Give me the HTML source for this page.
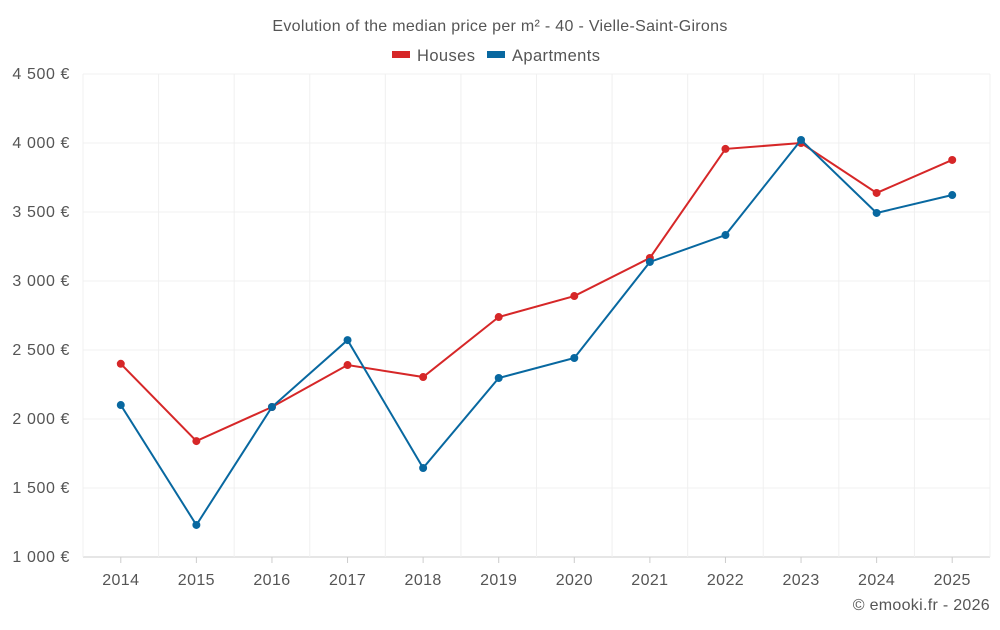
<!DOCTYPE html>
<html><head><meta charset="utf-8"><style>
body{margin:0;background:#fff;font-family:"Liberation Sans",sans-serif;}
svg text{font-family:"Liberation Sans",sans-serif;fill:#555;}
</style></head><body>
<svg id="chart" width="1000" height="625">
<text x="500" y="31" text-anchor="middle" font-size="16" letter-spacing="0.3">Evolution of the median price per m² - 40 - Vielle-Saint-Girons</text>
<g>
<g><rect x="392" y="51" width="18" height="7" fill="#d62728"/><text x="417" y="61" font-size="16.5" letter-spacing="0.4">Houses</text></g>
<g><rect x="487" y="51" width="18" height="7" fill="#0868a0"/><text x="512" y="61" font-size="16.5" letter-spacing="0.4">Apartments</text></g>
</g>
<g id="grid"></g><g id="axes"></g><g id="series"></g>
<text x="990" y="610" text-anchor="end" font-size="16" letter-spacing="0.3">© emooki.fr - 2026</text>
</svg>
<script>
const years=[2014,2015,2016,2017,2018,2019,2020,2021,2022,2023,2024,2025];
const houses=[2400,1840,2087,2391,2304,2739,2891,3167,3957,4000,3638,3877];
const apartments=[2101,1232,2087,2572,1645,2297,2442,3138,3333,4022,3493,3623];
const yTicks=[1000,1500,2000,2500,3000,3500,4000,4500];
const yTickLabels=["1 000 €","1 500 €","2 000 €","2 500 €","3 000 €","3 500 €","4 000 €","4 500 €"];
const L=83,R=990,T=74,B=557,ymin=1000,ymax=4500;
const band=(R-L)/years.length;
const x=i=>L+band*(i+0.5);
const y=v=>B-(v-ymin)/(ymax-ymin)*(B-T);
const NS="http://www.w3.org/2000/svg";
function mk(tag,attrs,parent){const e=document.createElementNS(NS,tag);for(const k in attrs)e.setAttribute(k,attrs[k]);document.getElementById(parent).appendChild(e);return e;}
yTicks.forEach((t,i)=>{
 const g=mk('line',{x1:L,x2:R,y1:y(t),y2:y(t),stroke:i===0?'#ccc':'#f0f0f0','stroke-width':1},'grid');
 
 
 const tx=mk('text',{x:70,y:y(t)+5,'text-anchor':'end','font-size':16,'letter-spacing':0.6},'axes');
 tx.textContent=yTickLabels[i];
 
 
});
for(let i=0;i<=years.length;i++){
 const g=mk('line',{x1:L+band*i,x2:L+band*i,y1:T,y2:B,stroke:'#f0f0f0','stroke-width':1},'grid');
 
 
}
years.forEach((yr,i)=>{
 const tk=mk('line',{x1:x(i),x2:x(i),y1:B,y2:B+6,stroke:'#ccc'},'axes');
 
 
 const tx=mk('text',{x:x(i),y:585,'text-anchor':'middle','font-size':16,'letter-spacing':0.4},'axes');
 tx.textContent=yr;
 
 
});
function draw(data,color,name){
 const p=mk('polyline',{points:data.map((v,i)=>x(i)+','+y(v)).join(' '),fill:'none',stroke:color,'stroke-width':2},'series');
 
 
 data.forEach((v,i)=>{
  const c=mk('circle',{cx:x(i),cy:y(v),r:4,fill:color},'series');
  
  
 });
}
draw(houses,'#d62728','houses');
draw(apartments,'#0868a0','apartments');
</script>
</body></html>
